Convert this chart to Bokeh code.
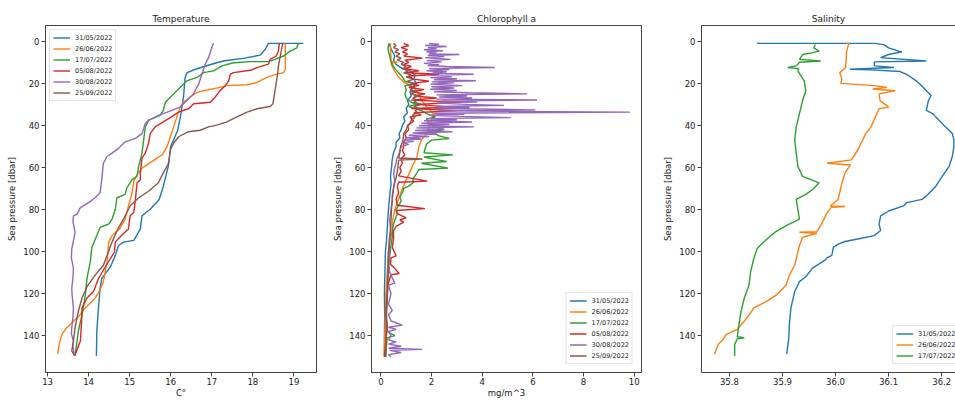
from bokeh.plotting import figure
from bokeh.layouts import row
from bokeh.models import Range1d, FixedTicker, Legend, LegendItem, LinearAxis, NumeralTickFormatter
from bokeh.embed import file_html
from bokeh.resources import INLINE

# ---------------- data ----------------
DATES = ["31/05/2022", "26/06/2022", "17/07/2022", "05/08/2022", "30/08/2022", "25/09/2022"]
COLORS = ["#1f77b4", "#ff7f0e", "#2ca02c", "#d62728", "#9467bd", "#8c564b"]

Y_TICKS = [0, 20, 40, 60, 80, 100, 120, 140]
TEMP_TICKS = [13, 14, 15, 16, 17, 18, 19]
CHL_TICKS = [0, 2, 4, 6, 8, 10]
SAL_TICKS = [35.8, 35.9, 36.0, 36.1, 36.2]

# Temperature profiles: (pressure dbar, temperature C)
TEMP_3105 = [(1, 19.23), (1, 18.38), (3.9, 18.30), (6.6, 18.18), (8.0, 17.80), (9.4, 17.28), (10.2, 17.12),
             (13.3, 16.60), (14.9, 16.40), (17.2, 16.35), (26.6, 16.31), (34.4, 16.25), (42.3, 16.17),
             (50.0, 16.00), (59.5, 15.94), (68.9, 15.82), (75.2, 15.72), (79.9, 15.50), (83.0, 15.30),
             (89.2, 15.26), (94.7, 15.10), (95.5, 14.85), (97.1, 14.73), (101.8, 14.65), (107.3, 14.53),
             (112.8, 14.32), (117.4, 14.28), (126.8, 14.24), (137.8, 14.20), (149.5, 14.19)]
TEMP_2606 = [(1, 18.79), (13.3, 18.79), (14.9, 18.75), (15.6, 18.59), (17.2, 18.34), (19.6, 18.10),
             (20.7, 17.86), (21.1, 17.37), (21.9, 17.20), (23.5, 16.80), (24.3, 16.64), (26.6, 16.47),
             (29.0, 16.31), (31.3, 16.23), (36.0, 16.15), (40.7, 16.07), (45.4, 15.99), (50.1, 15.91),
             (54.0, 15.79), (57.2, 15.54), (60.3, 15.30), (63.4, 15.18), (66.6, 15.10), (72.0, 15.06),
             (78.3, 14.97), (84.6, 14.89), (89.3, 14.75), (92.4, 14.57), (95.5, 14.49), (104.9, 14.45),
             (114.3, 14.36), (118.2, 14.28), (122.1, 14.16), (125.3, 14.00), (127.6, 13.88), (130.8, 13.76),
             (133.9, 13.59), (136.2, 13.47), (139.4, 13.35), (143.3, 13.29), (148.8, 13.25)]
TEMP_1707 = [(0.8, 19.11), (3.1, 19.07), (4.7, 18.91), (7.0, 18.75), (8.6, 18.54), (9.7, 18.38), (9.7, 17.94),
             (10.2, 17.53), (11.7, 17.25), (14.1, 17.04), (14.9, 16.80), (17.2, 16.64), (18.8, 16.39),
             (21.1, 16.27), (24.3, 16.11), (26.6, 15.99), (29.0, 15.87), (32.9, 15.82), (35.2, 15.74),
             (37.6, 15.46), (40.7, 15.38), (47.0, 15.34), (53.2, 15.30), (59.5, 15.22), (64.2, 15.18),
             (65.8, 15.06), (69.7, 14.93), (72.8, 14.89), (74.4, 14.69), (79.9, 14.65), (84.6, 14.57),
             (86.9, 14.49), (88.5, 14.28), (92.4, 14.20), (97.9, 14.08), (104.9, 14.04), (112.8, 13.96),
             (120.6, 13.92), (130.0, 13.84), (137.8, 13.75), (142.5, 13.72), (149.6, 13.67)]
TEMP_0508 = [(0.8, 18.65), (4.7, 18.62), (7.0, 18.57), (8.6, 18.42), (10.9, 18.38), (12.5, 18.10),
             (13.8, 17.94), (14.9, 17.53), (15.6, 17.45), (18.8, 17.41), (21.1, 17.33), (23.5, 17.20),
             (26.6, 17.08), (29.0, 16.96), (29.7, 16.56), (32.1, 16.43), (33.7, 16.19), (36.8, 15.95),
             (40.7, 15.62), (43.9, 15.50), (48.5, 15.46), (53.2, 15.38), (55.6, 15.30), (62.6, 15.26),
             (65.8, 15.26), (67.3, 15.18), (75.2, 15.14), (81.4, 15.10), (83.0, 15.01), (89.3, 14.97),
             (92.4, 14.80), (95.5, 14.65), (100.2, 14.63), (106.5, 14.43), (112.8, 14.24), (119.0, 14.12),
             (122.1, 13.96), (126.8, 13.84), (133.1, 13.83), (142.5, 13.80), (149.0, 13.67)]
TEMP_3008 = [(0.8, 17.04), (3.1, 17.00), (7.8, 16.92), (10.9, 16.84), (15.6, 16.76), (20.4, 16.68),
             (25.1, 16.55), (28.2, 16.39), (31.3, 16.23), (32.9, 16.03), (35.2, 15.70), (37.6, 15.46),
             (39.1, 15.38), (43.9, 15.30), (46.2, 15.14), (47.8, 14.89), (50.9, 14.73), (53.2, 14.57),
             (54.8, 14.45), (57.9, 14.36), (65.8, 14.32), (72.0, 14.28), (74.4, 14.16), (76.7, 14.00),
             (79.1, 13.80), (82.2, 13.72), (83.0, 13.63), (86.0, 13.62), (90.8, 13.67), (94.0, 13.64),
             (98.7, 13.59), (103.0, 13.58), (108.0, 13.63), (112.0, 13.62), (117.4, 13.59), (121.0, 13.60),
             (126.8, 13.63), (131.0, 13.62), (136.2, 13.59), (139.0, 13.58), (142.5, 13.63), (145.0, 13.62),
             (148.8, 13.65)]
TEMP_2509 = [(0.8, 18.73), (4.7, 18.69), (10.9, 18.63), (17.2, 18.59), (23.5, 18.54), (29.7, 18.49),
             (31.0, 18.42), (32.1, 18.10), (33.7, 17.86), (36.0, 17.61), (38.3, 17.37), (39.9, 17.12),
             (40.7, 16.92), (42.3, 16.72), (43.0, 16.43), (45.4, 16.19), (48.5, 16.07), (51.7, 15.99),
             (57.9, 15.95), (62.6, 15.82), (67.3, 15.70), (71.3, 15.46), (74.4, 15.22), (78.3, 15.01),
             (84.6, 14.85), (89.3, 14.71), (95.5, 14.57), (101.8, 14.45), (106.5, 14.36), (111.2, 14.16),
             (116.7, 13.96), (122.1, 13.84), (128.4, 13.75), (136.2, 13.67), (142.5, 13.63), (147.2, 13.59),
             (149.6, 13.66)]

# Chlorophyll a profiles: (pressure dbar, mg/m^3)
CHL_3105 = [(1, 0.32), (3, 0.38), (5, 0.46), (7, 0.55), (9, 0.50), (11, 0.60), (13, 0.85), (14, 1.15),
            (15, 1.25), (16, 1.35), (18, 1.30), (20, 1.40), (22, 1.25), (24, 1.15), (26, 1.20), (28, 1.05),
            (30, 1.10), (32, 1.00), (34, 1.05), (36, 0.90), (38, 0.95), (40, 0.85), (42, 0.80), (44, 0.72),
            (46, 0.75), (48, 0.60), (50, 0.60), (53, 0.50), (56, 0.45), (60, 0.42), (64, 0.38), (68, 0.40),
            (72, 0.36), (76, 0.33), (80, 0.30), (85, 0.27), (90, 0.25), (95, 0.22), (100, 0.18), (110, 0.16),
            (120, 0.14), (130, 0.15), (140, 0.14), (150, 0.15)]
CHL_2606 = [(1, 0.38), (4, 0.38), (8, 0.40), (9.5, 0.39), (10, 0.65), (10.5, 0.40), (12, 0.45), (14, 0.53),
            (17, 0.70), (19.6, 0.92), (20.7, 1.12), (22, 1.30), (25, 1.50), (28, 1.60), (31, 1.80), (33, 1.97),
            (35, 2.10), (37.6, 2.00), (40.7, 1.90), (43.8, 1.83), (47, 1.60), (50, 1.50), (54.8, 1.43),
            (58, 1.30), (62, 1.15), (66, 1.00), (70, 0.85), (75, 0.70), (80, 0.55), (86, 0.45), (90, 0.45),
            (95, 0.35), (100, 0.30), (110, 0.25), (120, 0.20), (130, 0.18), (140, 0.15), (150, 0.12)]
CHL_1707 = [(1, 0.32), (3, 0.28), (5, 0.30), (7, 0.35), (9, 0.38), (11, 0.45), (13, 0.55), (15, 0.70),
            (17, 0.85), (19, 0.95), (20.4, 1.37), (21, 0.95), (23, 1.00), (25, 0.95), (27, 1.00), (29, 1.20),
            (30, 1.40), (31, 1.10), (33, 1.60), (35, 1.90), (36, 2.15), (37, 1.80), (39, 1.90), (40.7, 2.10),
            (42, 2.50), (43, 2.00), (45, 2.30), (46.2, 2.70), (47, 2.00), (49, 1.80), (51, 1.75), (53, 1.70),
            (54, 2.85), (55, 1.70), (57.2, 2.60), (58, 1.60), (60.3, 2.65), (61, 1.50), (63, 1.40),
            (65.8, 1.25), (67, 1.30), (68.9, 1.10), (70, 0.90), (72, 0.85), (74, 0.75), (76, 0.80), (78, 0.70),
            (80, 0.60), (82, 0.65), (85, 0.55), (89, 0.46), (93, 0.45), (97, 0.40), (102, 0.35), (108, 0.30),
            (115, 0.28), (122, 0.25), (130, 0.22), (138, 0.25), (140, 0.55), (141, 0.25), (145, 0.22),
            (150, 0.20)]
CHL_0508 = [(1, 0.90), (2, 1.10), (3, 0.80), (4, 1.05), (5, 0.85), (6, 1.05), (7, 0.90), (8, 1.64), (9, 0.95),
            (10, 1.10), (11, 0.90), (12, 1.20), (13, 0.95), (14, 1.50), (15, 1.00), (15.7, 2.30), (16.5, 1.10),
            (18, 1.30), (19, 1.90), (20, 1.20), (21, 1.50), (22, 1.10), (23, 1.70), (24, 1.20), (25, 1.75),
            (26, 1.30), (27, 2.20), (28, 1.20), (29, 3.20), (30, 1.40), (31.3, 2.80), (32, 1.20), (33, 3.00),
            (34, 1.30), (35, 1.60), (36, 1.15), (38, 1.30), (40, 1.05), (42, 1.10), (44, 0.95), (46, 1.00),
            (48, 0.90), (50, 0.90), (52, 0.85), (54, 0.95), (56, 0.80), (58, 0.85), (60, 0.75), (62, 0.80),
            (64, 0.70), (66.5, 1.83), (67, 0.70), (69, 0.65), (72, 0.70), (75, 0.60), (78, 0.65), (79.6, 1.74),
            (80.5, 0.60), (82, 0.65), (84, 1.00), (85, 0.75), (86, 0.90), (88, 0.60), (90, 0.50), (94, 0.50),
            (98, 0.45), (102, 0.60), (103, 0.40), (106, 0.38), (108, 0.55), (110.4, 0.72), (111, 0.40),
            (115, 0.30), (120, 0.25), (125, 0.22), (130, 0.20), (135, 0.25), (140, 0.22), (145, 0.18),
            (150, 0.15)]
CHL_3008 = [(1, 1.90), (1.5, 2.30), (2, 1.75), (2.5, 2.60), (3, 1.85), (3.5, 2.20), (4, 1.70), (4.5, 2.45),
            (5, 1.80), (5.5, 2.20), (6, 1.90), (6.3, 3.10), (6.8, 1.85), (7.3, 2.50), (7.8, 1.75), (8.6, 2.75),
            (9.2, 1.80), (9.8, 2.40), (10.5, 1.70), (11, 2.30), (11.5, 1.85), (12.0, 2.60), (12.5, 4.50),
            (13.0, 1.90), (13.5, 2.70), (14, 1.80), (14.5, 2.60), (15.2, 2.00), (15.7, 3.67), (16.2, 1.90),
            (16.8, 2.80), (17.3, 1.95), (17.8, 3.00), (18.3, 2.10), (18.8, 3.75), (19.3, 2.00), (19.8, 2.90),
            (20.4, 1.95), (21.1, 3.20), (21.6, 2.00), (22.2, 2.90), (22.8, 1.95), (23.4, 3.00), (24, 2.10),
            (24.5, 3.50), (25, 5.78), (25.5, 2.20), (26, 3.40), (26.5, 2.30), (27, 3.60), (27.5, 2.20),
            (27.9, 6.17), (28.4, 2.40), (28.9, 3.80), (29.4, 2.20), (30, 3.40), (30.5, 4.86), (31, 2.20),
            (31.5, 3.50), (32, 2.10), (32.6, 6.10), (33.1, 2.30), (33.7, 9.83), (34.2, 2.10), (34.7, 3.30),
            (35.2, 1.90), (35.7, 3.10), (36.3, 5.12), (36.8, 1.80), (37.3, 3.00), (37.8, 1.70), (38.4, 3.60),
            (39, 1.60), (39.6, 2.70), (40.2, 1.50), (40.7, 3.67), (41.2, 1.40), (41.8, 2.50), (42.4, 1.35),
            (43.0, 2.83), (43.6, 1.25), (44.1, 2.20), (44.7, 1.10), (45.3, 1.90), (45.9, 1.00), (46.5, 1.60),
            (47, 0.90), (47.6, 1.30), (48.2, 0.85), (49, 1.10), (50, 0.80), (52, 0.75), (54, 0.70), (56, 0.62),
            (58, 0.60), (60, 0.55), (63, 0.50), (66, 0.55), (70, 0.50), (73, 0.45), (76, 0.45), (80, 0.40),
            (85, 0.35), (90, 0.38), (95, 0.32), (100, 0.35), (105, 0.30), (110, 0.35), (115, 0.55),
            (116, 0.30), (120, 0.40), (125, 0.30), (128, 0.45), (130, 0.30), (133, 0.40), (135, 0.85),
            (136, 0.30), (137, 0.60), (138, 0.30), (140, 0.40), (142, 0.30), (143, 0.60), (144, 0.30),
            (145, 0.80), (146, 0.30), (146.5, 1.63), (147, 0.35), (148, 0.80), (149, 0.30), (150, 0.40)]
CHL_2509 = [(1, 0.50), (2, 0.60), (3, 0.50), (4, 0.70), (5, 0.55), (6, 0.75), (7, 0.60), (8, 0.80), (9, 0.65),
            (10, 0.90), (11, 0.80), (12, 1.00), (13, 0.85), (14, 1.10), (15, 0.90), (16, 1.20), (17, 1.00),
            (18, 1.30), (19, 1.05), (20, 1.25), (21, 1.10), (22, 1.35), (23, 1.15), (24, 1.40), (25, 1.20),
            (26, 1.50), (27, 1.25), (28, 1.45), (29, 1.30), (30, 1.60), (31, 1.30), (32, 1.50), (33, 1.35),
            (34, 1.45), (35, 1.25), (36, 1.35), (37.6, 1.20), (39, 1.15), (40.7, 1.04), (42, 1.00),
            (43.8, 0.91), (46, 0.88), (48, 0.85), (50, 0.78), (53, 0.75), (55.5, 0.70), (56, 1.64),
            (56.5, 0.70), (59, 0.68), (62.6, 0.64), (66, 0.58), (68.9, 0.51), (72, 0.48), (75, 0.45),
            (80, 0.42), (85, 0.40), (90, 0.38), (95, 0.35), (100, 0.30), (110, 0.28), (120, 0.25),
            (130, 0.22), (140, 0.20), (150, 0.18)]

# Salinity profiles: (pressure dbar, salinity)
SAL_3105 = [(1, 35.852), (1, 36.073), (1.6, 36.091), (3.1, 36.100), (4.7, 36.119), (5.0, 36.125),
            (6.3, 36.100), (7.8, 36.085), (9.4, 36.171), (9.8, 36.073), (11.7, 36.073), (12.5, 36.110),
            (13.3, 36.027), (13.6, 36.067), (14.4, 36.122), (15.7, 36.134), (18.8, 36.152), (21.9, 36.165),
            (25.8, 36.180), (28.2, 36.175), (32.9, 36.171), (34.4, 36.183), (37.6, 36.195), (40.7, 36.207),
            (43.8, 36.220), (46.9, 36.223), (50.0, 36.223), (54.8, 36.220), (59.5, 36.214), (64.2, 36.201),
            (68.9, 36.189), (73.6, 36.171), (75.2, 36.163), (76.7, 36.134), (78.3, 36.128), (80.7, 36.100),
            (83.0, 36.085), (87.0, 36.082), (90.0, 36.085), (92.4, 36.073), (94.0, 36.042), (95.2, 36.018),
            (96.3, 36.006), (97.9, 35.996), (101.8, 35.993), (103.0, 35.984), (104.1, 35.980), (108.0, 35.956),
            (112.0, 35.944), (114.3, 35.932), (119.0, 35.923), (126.8, 35.916), (134.6, 35.913),
            (140.9, 35.912), (148.8, 35.908)]
SAL_2606 = [(1, 36.020), (1, 36.025), (4.7, 36.021), (12.5, 36.019), (14.9, 36.008), (18.0, 36.012),
            (20.0, 36.010), (21.1, 36.073), (21.9, 36.097), (22.7, 36.070), (23.5, 36.112), (25.0, 36.082),
            (28.2, 36.084), (31.3, 36.100), (32.1, 36.082), (36.0, 36.075), (40.7, 36.067), (43.8, 36.057),
            (51.7, 36.042), (56.4, 36.030), (58.0, 35.984), (58.8, 36.028), (62.6, 36.018), (67.3, 36.012),
            (75.2, 36.005), (78.3, 35.990), (78.6, 36.018), (79.0, 35.992), (81.5, 35.984), (86.2, 35.975),
            (90.5, 35.965), (90.8, 35.932), (91.3, 35.965), (93.2, 35.938), (97.1, 35.932), (106.5, 35.923),
            (111.2, 35.913), (115.9, 35.907), (120.6, 35.889), (123.7, 35.870), (126.8, 35.846),
            (129.2, 35.840), (133.1, 35.828), (137.0, 35.815), (139.4, 35.794), (141.8, 35.788),
            (144.1, 35.779), (148.8, 35.772)]
SAL_1707 = [(1.5, 35.962), (3.1, 35.959), (4.7, 35.969), (5.5, 35.955), (6.3, 35.938), (8.6, 35.932),
            (9.4, 35.972), (10.0, 35.932), (11.7, 35.926), (12.5, 35.910), (13.0, 35.930), (14.1, 35.929),
            (18.8, 35.941), (23.5, 35.944), (28.2, 35.938), (34.4, 35.932), (40.7, 35.926), (47.0, 35.923),
            (53.2, 35.926), (59.5, 35.929), (64.2, 35.938), (67.3, 35.969), (70.5, 35.957), (72.8, 35.944),
            (75.2, 35.926), (79.9, 35.929), (84.6, 35.932), (87.7, 35.907), (90.8, 35.886), (95.6, 35.864),
            (98.7, 35.852), (103.4, 35.846), (109.6, 35.840), (115.9, 35.837), (122.2, 35.828),
            (128.4, 35.822), (134.7, 35.818), (140.5, 35.815), (141.0, 35.828), (141.5, 35.815),
            (144.1, 35.810), (149.6, 35.810)]

TEMP_SERIES = [TEMP_3105, TEMP_2606, TEMP_1707, TEMP_0508, TEMP_3008, TEMP_2509]
CHL_SERIES = [CHL_3105, CHL_2606, CHL_1707, CHL_0508, CHL_3008, CHL_2509]
SAL_SERIES = [SAL_3105, SAL_2606, SAL_1707]

# ---------------- style ----------------
FONT = "DejaVu Sans"
SPINE = "#444444"
TXT = "#222222"
H = 400


def make_fig(title, width, left, right, xr, xticks, xlabel, spine_right=True):
    p = figure(width=width, height=H, x_range=Range1d(*xr), y_range=Range1d(157.5, -7.5),
               output_backend="svg", toolbar_location=None,
               min_border_left=left, min_border_right=right, min_border_top=25, min_border_bottom=8)
    p.title.text = title
    p.title.align = "center"
    p.title.text_font = FONT
    p.title.text_font_size = "9px"
    p.title.text_font_style = "normal"
    p.title.text_color = TXT
    p.title.standoff = 4
    p.xgrid.visible = False
    p.ygrid.visible = False
    p.background_fill_color = "white"
    p.border_fill_color = "white"
    for ax in (p.xaxis[0], p.yaxis[0]):
        ax.major_tick_in = 0
        ax.major_tick_out = 4
        ax.minor_tick_in = 0
        ax.minor_tick_out = 0
        ax.axis_line_color = SPINE
        ax.major_tick_line_color = SPINE
        ax.major_label_text_font = FONT
        ax.major_label_text_font_size = "8.5px"
        ax.major_label_text_color = TXT
        ax.axis_label_text_font = FONT
        ax.axis_label_text_font_size = "8.5px"
        ax.axis_label_text_font_style = "normal"
        ax.axis_label_text_color = TXT
    p.xaxis.ticker = FixedTicker(ticks=xticks)
    p.yaxis.ticker = FixedTicker(ticks=Y_TICKS)
    p.xaxis.axis_label = xlabel
    p.yaxis.axis_label = "Sea pressure [dbar]"
    p.xaxis.major_label_standoff = 1
    p.xaxis.axis_label_standoff = 0
    p.yaxis.major_label_standoff = 2
    p.yaxis.axis_label_standoff = 3
    if spine_right:
        p.outline_line_color = SPINE
    else:
        p.outline_line_color = None
        top = LinearAxis(ticker=FixedTicker(ticks=[]), major_tick_out=0, major_tick_in=0,
                         minor_tick_out=0, minor_tick_in=0, major_label_text_font_size="0px",
                         axis_line_color=SPINE)
        p.add_layout(top, "above")
    return p


def draw(p, series, labels, **legend_kw):
    items = []
    for data, col, lab in zip(series, COLORS, labels):
        ps = [d[0] for d in data]
        vs = [d[1] for d in data]
        r = p.line(vs, ps, line_color=col, line_width=1.4)
        items.append(LegendItem(label=lab, renderers=[r]))
    leg = Legend(items=items, padding=3, spacing=2, label_height=9, glyph_height=9, glyph_width=17,
                 label_standoff=5, label_text_font=FONT, label_text_font_size="6.5px",
                 label_text_color=TXT, border_line_color="#cccccc", background_fill_alpha=0.85,
                 **legend_kw)
    p.add_layout(leg)


p1 = make_fig("Temperature", 330, 45, 14, (12.95, 19.55), TEMP_TICKS, "C°")
draw(p1, TEMP_SERIES, DATES, location="top_left", margin=4)

p2 = make_fig("Chlorophyll a", 330, 41, 19, (-0.37, 10.29), CHL_TICKS, "mg/m^3")
draw(p2, CHL_SERIES, DATES, location="bottom_right", margin=8)

p3 = make_fig("Salinity", 295, 37, 0, (35.7475, 36.226), SAL_TICKS, "", spine_right=False)
p3.below[0].formatter = NumeralTickFormatter(format="0.0")
draw(p3, SAL_SERIES, DATES[:3], location=(191, 8))

layout = row(p1, p2, p3)
open("out.html", "w").write(file_html(layout, INLINE, title="CTD profiles"))
